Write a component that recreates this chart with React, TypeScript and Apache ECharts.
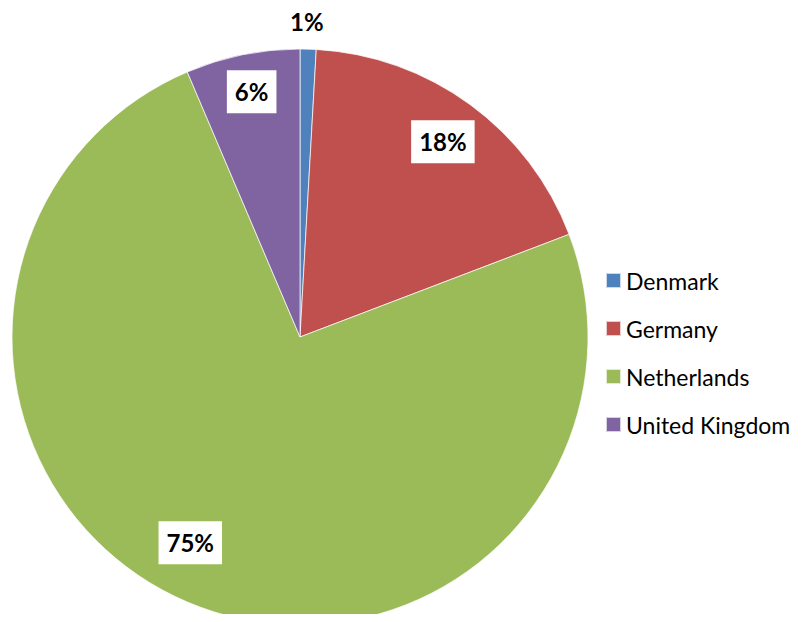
import React, { useEffect, useRef } from "react";
import * as echarts from "echarts";

const categories = ["Denmark", "Germany", "Netherlands", "United Kingdom"];
const values = [0.9, 18.3, 74.4, 6.4];
const labels = ["1%", "18%", "75%", "6%"];
const colors = ["#4F81BD", "#C0504D", "#9BBB59", "#8064A2"];

export default function App() {
  const ref = useRef<HTMLDivElement>(null);
  useEffect(() => {
    if (!ref.current) return;
    const chart = echarts.init(ref.current, null, { renderer: "svg" });
    const R = 288;
    const labelFactor = 0.83;
    const nudges: Record<number, { dx?: number; dy?: number }> = {
      0: { dy: -74 },
      2: { dx: -15, dy: -17 },
      3: { dy: -8 },
    };
    chart.setOption({
      animation: false,
      backgroundColor: "#ffffff",
      legend: {
        orient: "vertical",
        left: 597,
        top: 261,
        padding: 0,
        itemWidth: 15,
        itemHeight: 15,
        itemGap: 25,
        icon: "rect",
        data: categories,
        textStyle: { fontFamily: "Lato", fontSize: 23, color: "#000" },
      },
      series: [
        {
          type: "pie",
          center: [292, 329],
          radius: [0, R],
          startAngle: 90,
          clockwise: true,
          silent: true,
          label: { show: false },
          labelLine: { show: false },
          itemStyle: { borderColor: "rgba(255,255,255,0.7)", borderWidth: 1 },
          data: categories.map((c, i) => ({
            name: c,
            value: values[i],
            itemStyle: { color: colors[i] },
          })),
        },
        {
          type: "pie",
          center: [292, 329],
          radius: [0, R * labelFactor * 2],
          startAngle: 90,
          clockwise: true,
          silent: true,
          legendHoverLink: false,
          itemStyle: { color: "rgba(0,0,0,0)" },
          labelLine: { show: false },
          label: {
            show: true,
            position: "inside",
            formatter: (p: any) => labels[p.dataIndex],
            fontFamily: "Lato",
            fontWeight: "bold",
            fontSize: 24,
            lineHeight: 27,
            color: "#000",
            backgroundColor: "#fff",
            padding: [8, 8],
          },
          labelLayout: (p: any) => nudges[p.dataIndex] || {},
          data: categories.map((c, i) => ({
            name: c + " ",
            value: values[i],
          })),
        },
      ],
    });
    return () => chart.dispose();
  }, []);
  return <div ref={ref} style={{ width: 788, height: 606 }} />;
}
